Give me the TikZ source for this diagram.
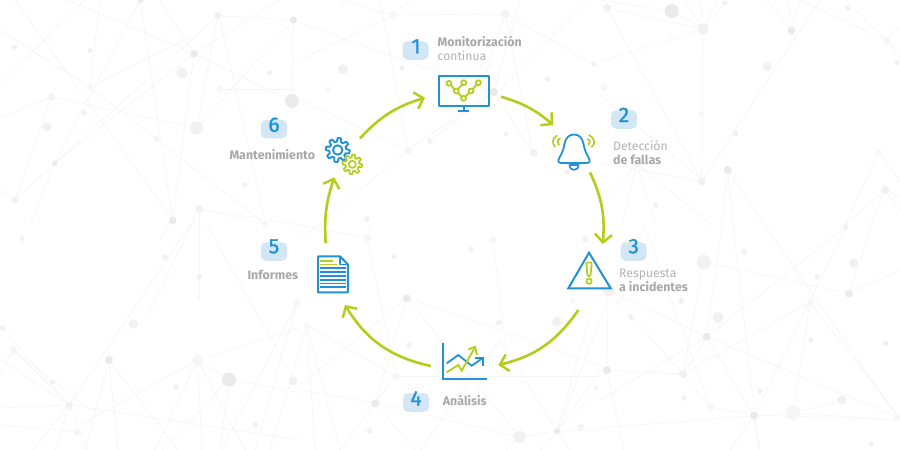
\documentclass[tikz,border=0pt]{standalone}
\usepackage{fontspec}
\setmainfont{Fira Sans}
\newfontfamily\digf[FakeBold=1.2]{Fira Sans}
\usetikzlibrary{arrows.meta}
\definecolor{bluei}{HTML}{2192D5}
\definecolor{limei}{HTML}{B5CC18}
\definecolor{blobc}{HTML}{D2E6F4}
\definecolor{txtb}{HTML}{A8A8A8}
\definecolor{txtr}{HTML}{B2B2B2}
\definecolor{edgec}{HTML}{F5F5F5}
\definecolor{dA}{HTML}{F1F1F1}
\definecolor{dB}{HTML}{EAEAEA}
\definecolor{dC}{HTML}{F6F6F6}
\tikzset{
  bgline/.style={edgec,line width=0.6pt},
  iconb/.style={bluei,line width=2pt,line join=round,line cap=round},
  iconl/.style={limei,line width=2pt,line join=round,line cap=round},
  flow/.style={limei,line width=2.6pt,-{Straight Barb[length=8pt,width=17pt,line width=2.4pt]}},
  blob/.style={fill=blobc,rounded corners=5pt,minimum width=26pt,minimum height=18.5pt,inner sep=0pt},
  digit/.style={anchor=base,text=bluei,inner sep=0pt,font=\digf\fontsize{21}{21}\selectfont},
  lab/.style={anchor=base west,inner sep=0pt,text=txtr,font=\fontsize{12.2}{14}\selectfont},
  labb/.style={anchor=base west,inner sep=0pt,text=txtb,font=\fontsize{12.4}{14}\selectfont\bfseries},
}
\begin{document}
\begin{tikzpicture}[x=1pt,y=-1pt]
\useasboundingbox (0,0) rectangle (900,450);
\fill[white] (0,0) rectangle (900,450);
\begin{scope}
\clip (0,0) rectangle (900,450);
% background network
\foreach \a/\b/\c/\d in {
15/0/172.7/220, 67/0/194/53.7, 160/0/194/53.7, 194/53.7/292/101, 194/53.7/280/0, 194/53.7/54.8/163.3,
194/53.7/172.7/220, 140/0/172.7/220, 140/0/54.8/163.3, 217.7/15.7/54.8/163.3, 217.7/15.7/196.7/128,
217.7/15.7/293.5/20, 220/20/265/220, 293.5/20/196.7/128, 293.5/20/292/101, 220/89/292/89,
51.5/96.8/196.7/128, 51.5/96.8/15/200, 51.5/96.8/0/118, 54.8/163.3/15/200, 90/87/0/30, 90/87/100/0,
90/87/265/224, 0/83/85/0, 15/200/0/190, 54.8/163.3/30/225, 90/87/190/37, 172.7/220/160/240,
199/209/265/224, 199/209/199/300, 199/209/148/315, 199/209/300/225, 190/225/69/405, 207/225/293/378,
197.7/360/300/328, 197.7/360/229/379, 229/379/300/393, 229/379/163/450, 229/379/220/450, 197.7/360/155/450,
197.7/360/202/450, 197.7/360/245/450, 197.7/360/80/425, 109/360/85/450, 109/360/118/450, 109/360/178/450,
13.5/349.7/69/405, 13.5/349.7/90/410, 0/325/69/405, 0/359/69/405, 69/405/0/408, 69/405/33/450, 69/405/55/450,
69/405/88/450, 69/405/300/440, 13.5/349.7/0/375, 0/425/76/432, 296.7/303/222/450, 296.7/303/255/450,
300/23/494/92, 500/90/587/0, 505/14/594/64, 505/14/393/15, 505/14/533/153, 505/14/480/92, 520/0/494/92,
494/92/430/141, 393/15/300/60, 393/15/410/0, 393/15/340/0, 408/150/494/92, 408/150/380/0, 408/150/300/100,
408/150/300/240, 594/64/600/68, 533/153/494/92,
407/298/600/365, 407/298/519.7/437, 407/298/375.3/403, 407/298/300/385, 396/376/375/403, 375/403/300/390,
375/403/340/450, 375/403/415/450, 396/376/600/376, 367/238/371/225, 367/238/396/376, 367/238/300/225,
492.7/240/505/340, 307/325/396/376, 307/325/315/450, 307/325/340/450, 307/325/270/450, 557/431/590/315,
557/431/608/300, 557/431/600/370, 557/431/600/430, 557/431/520/437, 557/431/570/450, 557/431/540/450,
557/431/600/388, 557/431/500/340, 519.7/437/507/450, 519.7/437/375/403, 420/450/500/340,
671.7/11/600/0, 607/8/703/29, 671.7/11/703/29, 703/29/701.7/181, 703/29/600/62, 703/29/724.7/3, 703/29/718/0,
703/29/700/0, 703/29/685/0, 791.3/30.7/767/0, 791.3/30.7/788/0, 791.3/30.7/800/0, 887/40.7/845/0, 887/40.7/900/58,
887/40.7/900/25, 887/40.7/800/0, 820/0/701.7/181, 607/8/701.7/181, 701.7/181/600/163, 727.7/170/722/225,
727.7/170/733/225, 727.7/170/765/225, 637/164/600/205, 637/164/622/225, 637/164/655/225, 637/164/712/225,
600/95/700/178, 885/190/845/225, 885/190/870/225, 885/190/900/197, 878.7/152/845/225, 878.7/152/900/182, 885/190/900/210,
722/225/706.7/336.7, 706.7/336.7/845.7/227, 706.7/336.7/608/290, 706.7/336.7/900/418, 706.7/336.7/754/415.7,
706.7/336.7/683/374, 706.7/336.7/600/400, 703.7/262/683/374, 703.7/262/849/293, 849/293/872/225, 849/293/900/270,
845.7/227/754/415.7, 733/225/759/450, 765/225/897/417, 683/374/810/302, 810/302/793/412, 810/302/900/418,
754/415/900/420, 600/428/754/415.7, 754/415/730/450, 754/415/760/450, 793/413/900/420, 842/400/793/413,
608/290/607/370, 607/370/683/374, 607/370/624/450, 608/290/683/374, 683/374/710/407, 710/407/754/415, 644/225/710/407}
  {\draw[bgline] (\a,\b) -- (\c,\d);}
\foreach \x/\y/\r/\c in {
14.7/47/2.5/dA, 90/50.5/2.5/dA, 51.5/96.8/3.5/dA, 90/87/3/dC, 84/113/2.5/dA, 47/127/4.5/dA, 54.8/163.3/2.5/dB,
15/200/3.7/dA, 140.6/0/3/dB, 194/53.7/3.7/dB, 182/73/5.5/dA, 217.7/15.7/3.7/dA, 293.5/20/3.7/dB, 220/89/3.5/dC,
269.5/73/2.5/dA, 292/101/7/dB, 196.7/128/6.5/dA, 157/139/2.7/dA, 245/185/2.7/dA, 199/209/3.7/dA, 172.7/220.5/3.7/dB,
265/224/3/dC, 22/238.5/2.5/dA, 165/257/2.7/dA, 199.3/276.7/2.7/dA, 133.3/324/4.7/dA, 2.7/328/2.7/dA, 13.5/349.7/3.7/dC,
109/360/4/dB, 197.7/360.5/5.5/dC, 229/379.5/7/dB, 52.5/382/2.7/dA, 176/387/2.7/dA, 293/381/4.3/dA, 69/405.5/3.7/dA,
76.7/432/3.5/dC, 255.5/424.7/2.7/dA, 296.7/303.7/3.7/dC,
343/69/5/dA, 402/68/2.7/dA, 328/89/2.7/dC, 393/15/4/dC, 505/14/4/dA, 594/64/2.7/dA, 494/92/4/dB, 547.5/79/2.7/dA,
506/134/2/dA, 430/141.5/2.7/dA, 408/150.7/4/dC, 533.7/153/4/dA, 367/218.7/2.7/dA, 567/172/2.7/dA,
367.3/237.7/4/dC, 394.3/256.7/2.2/dA, 471/249.3/2.7/dA, 492.7/240/3.7/dC, 585/239/3/dA, 557/321.7/5/dA,
406.7/298.3/4/dB, 499/322.7/3/dA, 409/345/2.7/dA, 396/376/4/dC, 375.3/403.3/4/dB, 369.7/430.7/2.7/dA, 307/325.3/2.7/dC,
519.7/437/6/dA, 557/431/3/dB, 581/427/3.5/dC, 596/388/2/dA, 572.7/301/2.7/dC,
607/8/4/dA, 671.7/11/7/dB, 703/29/5.5/dA, 724.7/3/2.7/dA, 791.3/30.7/4/dB, 848/8/2.7/dA, 887/40.7/3.7/dC, 897/62.7/2.5/dA,
767.3/66.7/4.5/dA, 603.7/87/3.7/dC, 701.3/114/2.7/dC, 735.7/133.3/2.7/dA, 727.7/170/4/dB, 701.7/181.3/4/dA,
878.7/152/2.5/dC, 885/190/4/dA, 655.7/205.3/2.7/dA, 637/164/3/dC,
703.7/262/7/dA, 744/251.7/3/dA, 845.7/227.3/2.7/dA, 853.7/263/4.5/dA, 817/277/2.7/dA, 849/293.5/4/dB, 681/301/3/dA,
718/317.7/5.5/dA, 631/317/2.7/dA, 609/290/6/dA, 706.7/336.7/4/dB, 810.3/302/3/dC, 810.7/340/2.7/dA, 885.7/343.3/2.7/dA,
607/370.3/4/dB, 683/374/4/dA, 760/391/2.7/dA, 684/398/2.7/dA, 842/400/4.5/dA, 710.7/407.7/3.5/dC, 754/415.7/4/dB,
793/413/7/dC, 897/417/3/dC, 871/444/2.7/dA}
  {\fill[\c] (\x,\y) circle[radius=\r];}
\end{scope}

% badges
\node[blob] (b1) at (415.5,50.5) {};
\node[blob] (b2) at (624,119.5) {};
\node[blob] (b3) at (633.5,251.5) {};
\node[blob] (b4) at (416,402.5) {};
\node[blob] (b5) at (274,251.5) {};
\node[blob] (b6) at (274,129) {};
\node[digit] (d1) at (416,53.3) {1};
\node[digit] (d2) at (624,122) {2};
\node[digit] (d3) at (633.7,253.3) {3};
\node[digit] (d4) at (416,405.5) {4};
\node[digit] (d5) at (274,253.3) {5};
\node[digit] (d6) at (274,131.8) {6};

% labels
\node[labb] (t1a) at (437.5,46) {Monitorización};
\node[lab]  (t1b) at (437.5,60.5) {continua};
\node[lab]  (t2a) at (613,150) {Detección};
\node[labb] (t2b) at (613,164) {de fallas};
\node[lab]  (t3a) at (619,277) {Respuesta};
\node[labb] (t3b) at (619,291) {a incidentes};
\node[labb] (t4)  at (442.7,405) {Análisis};
\node[labb] (t5)  at (247.3,279) {Informes};
\node[labb] (t6)  at (229.3,159.5) {Mantenimiento};

% monitor
\draw[iconb,line cap=butt] (438.7,75.7) rectangle (489.3,105.7);
\draw[iconb,line cap=butt] (463.7,105.7) -- (463.7,110.5) (458,110.7) -- (469,110.7);
\draw[iconl,line width=1.8pt] (449,83.3) -- (456.3,91) -- (463.5,98.3) -- (471,91) -- (478.3,82.7) (456.3,91) -- (463.7,82.7);
\foreach \x/\y in {449/83.3,463.7/82.7,478.3/82.7,456.3/91,471/91,463.5/98.3}
  {\draw[limei,line width=1.7pt,fill=white] (\x,\y) circle[radius=2.5];}

% bell
\draw[iconb,line width=1.8pt] (574,134.5) .. controls (568,134.5) and (565.5,139) .. (564.5,144)
  .. controls (563.5,150) and (561.5,154) .. (559.5,157.5) .. controls (557.5,160.5) and (558,163) .. (561,163)
  -- (587,163) .. controls (590,163) and (590.5,160.5) .. (588.5,157.5)
  .. controls (586.5,154) and (584.5,150) .. (583.5,144) .. controls (582.5,139) and (580,134.5) .. (574,134.5) -- cycle;
\draw[iconb,line width=1.7pt] (569.5,165) .. controls (569.5,171.5) and (578.5,171.5) .. (578.5,165) -- cycle;
\draw[iconl,line width=1.6pt] (556.7,135.7) .. controls (552,138) and (552,144) .. (555,146.7);
\draw[iconl,line width=1.6pt] (560,138.3) .. controls (557,140) and (557,143) .. (559,145);
\draw[iconl,line width=1.6pt] (589,135) .. controls (595,138) and (596,144) .. (591.7,146.7);
\draw[iconl,line width=1.6pt] (587.7,139) .. controls (590.5,141) and (590.5,143) .. (588.3,145);

% warning
\draw[iconb,line cap=butt,miter limit=10,line join=miter] (589,252.7) -- (610.7,288.3) -- (568.3,288.3) -- cycle;
\draw[iconl,line width=1.7pt,rounded corners=1pt] (586.2,262.5) -- (591.8,262.5) -- (590.5,276) -- (587.5,276) -- cycle;
\draw[iconl,line width=1.7pt] (589,281.2) circle[radius=2.7];

% chart
\draw[iconb,line cap=butt,line join=miter,line width=1.8pt] (442.7,342.7) -- (442.7,379) -- (486.5,379);
\draw[iconb,line cap=butt,line join=miter,line width=1.8pt] (446.7,363.3) -- (458.3,355) -- (471.7,365.7) -- (482.3,358.3);
\draw[iconb,line cap=butt,line join=miter,line width=1.8pt] (475,358.3) -- (482.6,358.3) -- (482.6,365.5);
\draw[iconl,line cap=butt,line join=miter,line width=1.8pt] (446.7,372.3) -- (458.3,365) -- (461.7,370.7) -- (475,347.3);
\draw[iconl,line cap=butt,line join=miter,line width=1.8pt] (468.3,349.5) -- (475,346.7) -- (476.9,355);

% document
\draw[iconb,line width=2pt,line cap=butt] (340,256.3) -- (318,256.3) -- (318,292.3) -- (347.8,292.3) -- (347.8,264.3) -- cycle;
\draw[iconb,line width=1.5pt] (340,256.8) -- (340,264.3) -- (347.5,264.3);
\draw[limei,line width=1.8pt] (320,260.7) -- (332.7,260.7) (320,264.5) -- (337.3,264.5);
\foreach \y in {268.3,272.2,276,279.7,283.4,287.3}
  {\draw[bluei,line width=1.7pt] (320.3,\y) -- (345.6,\y);}

% gears
\draw[iconb,line width=1.9pt] plot[domain=0:360,samples=145,smooth] ({337.7+(10.2+1.8*max(-1,min(1,2.2*sin(8*\x+22))))*cos(\x)},{150+(10.2+1.8*max(-1,min(1,2.2*sin(8*\x+22))))*sin(\x)}) -- cycle;
\draw[iconb,line width=1.9pt] (337.7,150) circle[radius=4.7];
\draw[iconl,line width=1.7pt] plot[domain=0:360,samples=145,smooth] ({352.3+(8.3+1.5*max(-1,min(1,2.2*sin(8*\x+22))))*cos(\x)},{164.3+(8.3+1.5*max(-1,min(1,2.2*sin(8*\x+22))))*sin(\x)}) -- cycle;
\draw[iconl,line width=1.7pt] (352.3,164.3) circle[radius=3.6];

% cycle arrows
\coordinate (a1s) at (501,96.7);   \coordinate (a1e) at (553.3,125);
\coordinate (a2s) at (590,172.3);  \coordinate (a2e) at (602.7,244);
\coordinate (a3s) at (578.3,310);  \coordinate (a3e) at (498.3,365);
\coordinate (a4s) at (430.7,366);  \coordinate (a4e) at (345,305);
\coordinate (a5s) at (325.7,243.3);\coordinate (a5e) at (334.3,177.3);
\coordinate (a6s) at (360,138.3);  \coordinate (a6e) at (425,97.7);
\draw[flow] (a1s) to[bend left=12] (a1e);
\draw[flow] (a2s) to[bend left=15] (a2e);
\draw[flow] (a3s) to[bend left=21] (a3e);
\draw[flow] (a4s) to[bend left=23] (a4e);
\draw[flow] (a5s) to[bend left=11] (a5e);
\draw[flow] (a6s) to[bend left=15] (a6e);
\end{tikzpicture}
\end{document}
